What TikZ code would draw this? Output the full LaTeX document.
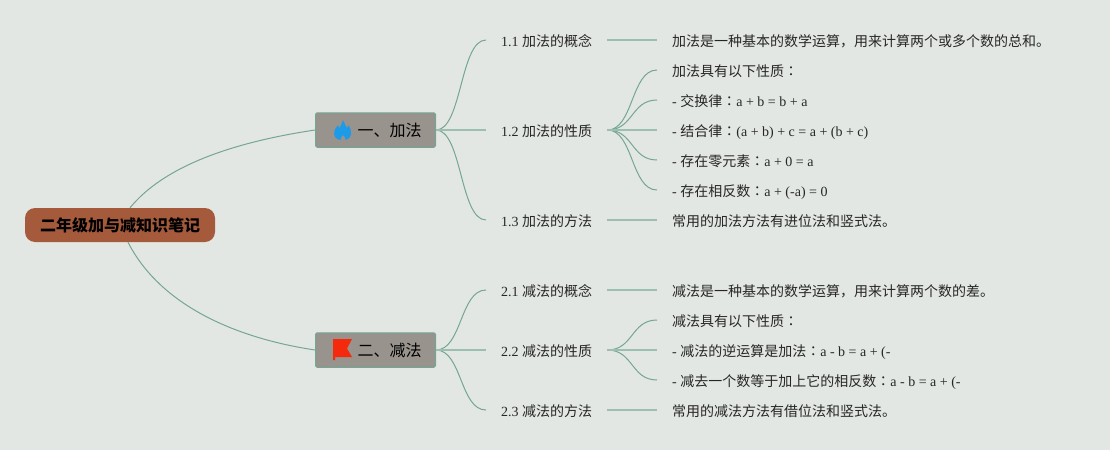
\documentclass[tikz,border=0pt]{standalone}
\usepackage{fontspec}
\setmainfont{Liberation Serif}
\newfontfamily\cjk{Noto Sans CJK SC}
\newfontfamily\cjktc{Noto Sans CJK TC}
\newcommand{\zh}[1]{{\cjk #1}}
\newcommand{\colonzh}{{\cjktc ：}}
\definecolor{bgc}{HTML}{E3E7E3}
\definecolor{rootc}{HTML}{A65A3C}
\definecolor{branchc}{HTML}{98938C}
\definecolor{linec}{HTML}{74A595}
\definecolor{straightc}{HTML}{9DBFB2}
\definecolor{flamec}{HTML}{1E9BE8}
\definecolor{flagc}{HTML}{F52A0C}
\tikzset{
  x=1pt,y=-1pt,
  rootbox/.style={draw=none,fill=rootc,rounded corners=10pt,minimum width=190pt,minimum height=34pt,inner sep=0pt,font=\fontsize{16pt}{18pt}\selectfont\cjk\bfseries},
  branchbox/.style={draw=linec,line width=1pt,fill=branchc,rounded corners=1.5pt,minimum width=120pt,minimum height=34.5pt,inner sep=0pt,font=\fontsize{16pt}{18pt}\selectfont},
  topicbox/.style={anchor=west,inner xsep=15pt,inner ysep=0pt,text height=14pt,text depth=2pt,text=black!85,font=\fontsize{14pt}{16pt}\selectfont},
  leafbox/.style={anchor=west,inner xsep=15pt,inner ysep=0pt,text height=14pt,text depth=2pt,text=black!85,font=\fontsize{14pt}{16pt}\selectfont},
  conn/.style={draw=linec,line width=1pt},
  straightconn/.style={draw=straightc,line width=1.6pt},
}
\newcommand{\topictext}[1]{\makebox[91pt][l]{#1}}
\newcommand{\scurve}[2]{\draw[conn] (#1.east) .. controls ([xshift=26pt]#1.east) and ([xshift=-26pt]#2.west) .. (#2.west);}
\newcommand{\sline}[2]{\draw[straightconn] (#1.east) -- (#2.west);}
\begin{document}
\begin{tikzpicture}
\useasboundingbox[fill=bgc] (0,0) rectangle (1110,450);
\node[rootbox] (root) at (120,225) {二年级加与减知识笔记};
\node[branchbox] (b1) at (375.5,130) {\hspace*{28pt}\zh{一、加法}};
\node[branchbox] (b2) at (375.5,350) {\hspace*{28pt}\zh{二、减法}};

\node[topicbox] (t11) at (486,40) {\topictext{1.1 \zh{加法的概念}}};
\node[topicbox] (t12) at (486,130) {\topictext{1.2 \zh{加法的性质}}};
\node[topicbox] (t13) at (486,220) {\topictext{1.3 \zh{加法的方法}}};
\node[topicbox] (t21) at (486,290) {\topictext{2.1 \zh{减法的概念}}};
\node[topicbox] (t22) at (486,350) {\topictext{2.2 \zh{减法的性质}}};
\node[topicbox] (t23) at (486,410) {\topictext{2.3 \zh{减法的方法}}};

\node[leafbox] (l11) at (657,40) {\zh{加法是一种基本的数学运算，用来计算两个或多个数的总和。}};
\node[leafbox] (l121) at (657,70) {\zh{加法具有以下性质}\colonzh};
\node[leafbox] (l122) at (657,100) {- \zh{交换律}\colonzh a + b = b + a};
\node[leafbox] (l123) at (657,130) {- \zh{结合律}\colonzh (a + b) + c = a + (b + c)};
\node[leafbox] (l124) at (657,160) {- \zh{存在零元素}\colonzh a + 0 = a};
\node[leafbox] (l125) at (657,190) {- \zh{存在相反数}\colonzh a + (-a) = 0};
\node[leafbox] (l13) at (657,220) {\zh{常用的加法方法有进位法和竖式法。}};
\node[leafbox] (l21) at (657,290) {\zh{减法是一种基本的数学运算，用来计算两个数的差。}};
\node[leafbox] (l221) at (657,320) {\zh{减法具有以下性质}\colonzh};
\node[leafbox] (l222) at (657,350) {- \zh{减法的逆运算是加法}\colonzh a - b = a + (-};
\node[leafbox] (l223) at (657,380) {- \zh{减去一个数等于加上它的相反数}\colonzh a - b = a + (-};
\node[leafbox] (l23) at (657,410) {\zh{常用的减法方法有借位法和竖式法。}};

% root to branches
\draw[conn] ([xshift=10pt]root.north) .. controls (165,165) and (235,142) .. (b1.west);
\draw[conn] ([xshift=8pt]root.south) .. controls (160,305) and (235,338) .. (b2.west);
% branches to topics
\foreach \a/\b in {b1/t11,b1/t13,b2/t21,b2/t23}{\scurve{\a}{\b}}
\foreach \a/\b in {b1/t12,b2/t22}{\sline{\a}{\b}}
% topics to leaves
\foreach \a/\b in {t12/l121,t12/l122,t12/l124,t12/l125,t22/l221,t22/l223}{\scurve{\a}{\b}}
\foreach \a/\b in {t11/l11,t12/l123,t13/l13,t21/l21,t22/l222,t23/l23}{\sline{\a}{\b}}

% flame icon
\fill[flamec] (343,120) .. controls (344,123.5) and (346,125) .. (346.8,128)
  .. controls (347.5,127.5) and (348,126.5) .. (348,125)
  .. controls (350.5,128) and (351.5,131) .. (351,134)
  .. controls (350.5,137.5) and (348,139.5) .. (345.5,140)
  .. controls (345.8,138) and (344.8,136.5) .. (343,135)
  .. controls (341.5,136.5) and (340.3,138) .. (340.5,140)
  .. controls (336.5,139.5) and (334.2,137) .. (334,133.5)
  .. controls (333.8,130) and (336,128) .. (338,125)
  .. controls (338.3,126.5) and (338.8,127.5) .. (339.6,128)
  .. controls (340.5,125.5) and (342.5,123) .. (343,120) -- cycle;
% flag icon
\fill[flagc] (333,339) -- (352,339) -- (347,348.5) -- (352,357) -- (335,357) -- (335,360) -- (333,360) -- cycle;
\end{tikzpicture}
\end{document}
